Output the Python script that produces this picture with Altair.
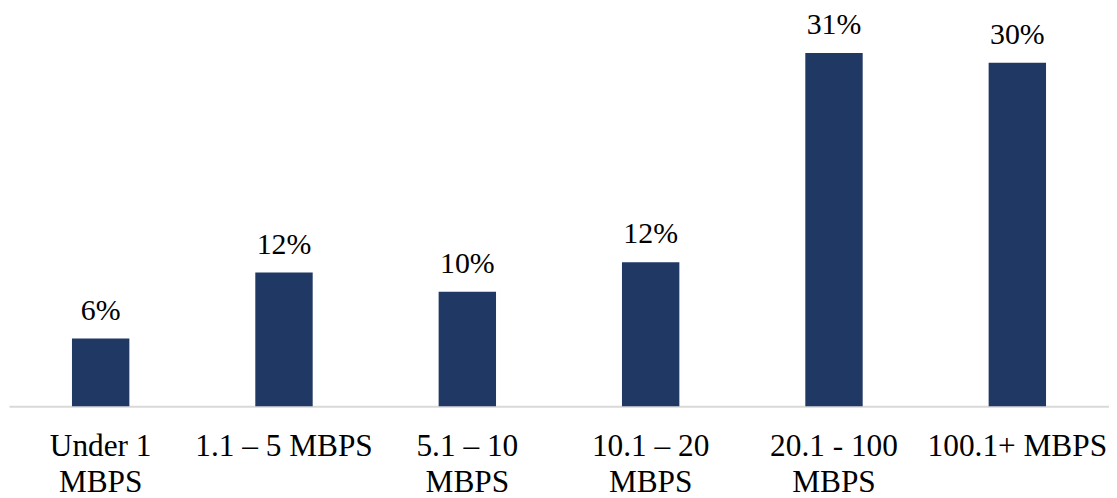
import altair as alt
import pandas as pd

categories = ["Under 1\nMBPS", "1.1 – 5 MBPS", "5.1 – 10\nMBPS", "10.1 – 20\nMBPS", "20.1 - 100\nMBPS", "100.1+ MBPS"]
values = [5.94, 11.73, 10.04, 12.63, 31.0, 30.15]
value_labels = ["6%", "12%", "10%", "12%", "31%", "30%"]

df = pd.DataFrame({"cat": categories, "val": values, "lab": value_labels})

FONT = "'Times New Roman', 'Liberation Serif', serif"

x = alt.X("cat:N", sort=categories, title=None,
          scale=alt.Scale(paddingInner=0.687, paddingOuter=0.3435),
          axis=alt.Axis(labelAngle=0, labelExpr="split(datum.label, '\\n')",
                        labelFont=FONT, labelFontSize=31.5, labelColor="#000000",
                        labelFontWeight="normal", labelLimit=400,
                        labelBaseline="alphabetic", labelPadding=50, labelLineHeight=36,
                        ticks=False, domainColor="#d9d9d9", domainWidth=2, grid=False))
y = alt.Y("val:Q", scale=alt.Scale(domain=[0, 34.84], nice=False, zero=True), axis=None)

bars = alt.Chart(df).mark_bar(color="#203864").encode(x=x, y=y)
text = alt.Chart(df).mark_text(font=FONT, fontSize=30, color="#000000",
                               fontWeight="normal",
                               baseline="alphabetic", dy=-19).encode(x=x, y=y, text="lab:N")

chart = (bars + text).properties(width=1106, height=399, padding={"left": 1, "top": 0, "right": 0, "bottom": 0},
                                 background="#ffffff").configure_view(stroke=None)

chart.save("out.html", embed_options={"renderer": "svg", "actions": False})
